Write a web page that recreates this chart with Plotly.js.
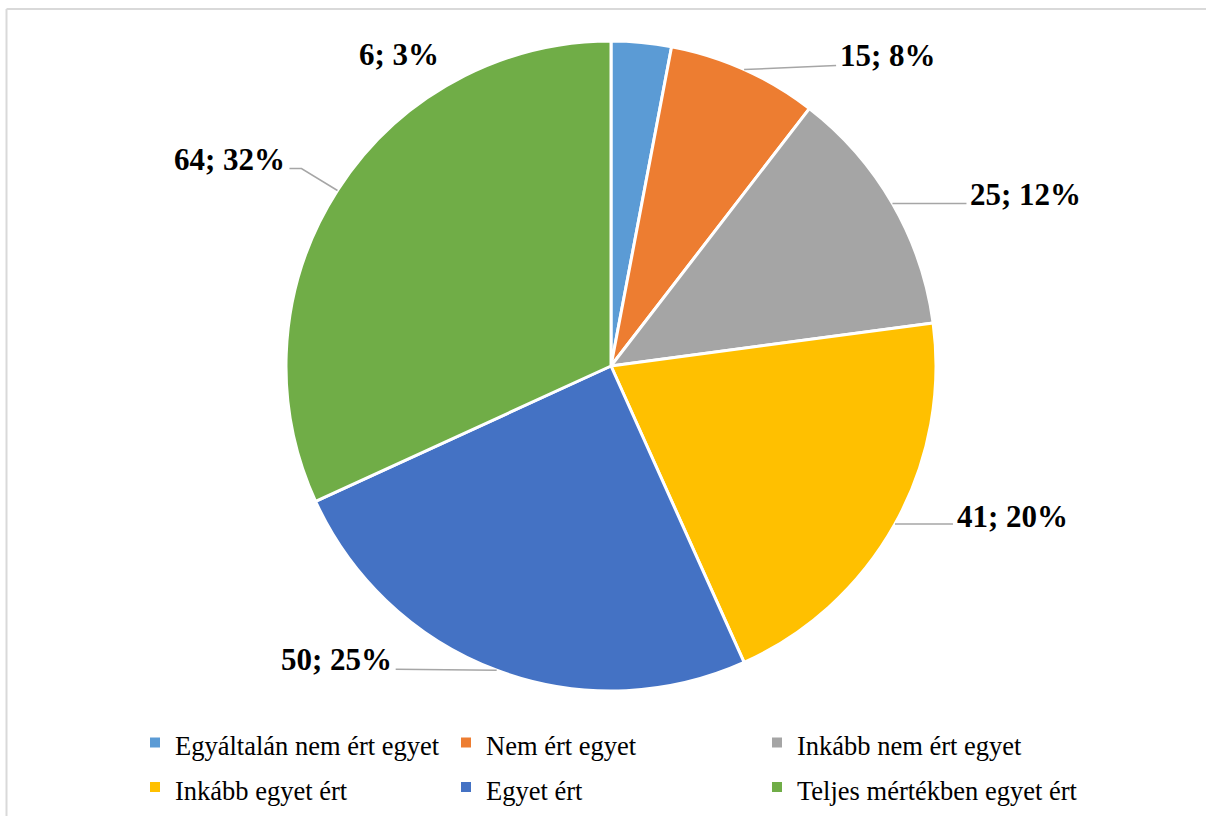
<!DOCTYPE html>
<html>
<head>
<meta charset="utf-8">
<script src="https://cdn.plot.ly/plotly-3.0.1.min.js"></script>
<style>html,body{margin:0;padding:0;background:#fff;}#chart{width:1206px;height:816px;}</style>
</head>
<body>
<div id="chart"></div>
<script>
// ---- data ----
const categories = ["Egyáltalán nem ért egyet", "Nem ért egyet", "Inkább nem ért egyet",
                    "Inkább egyet ért", "Egyet ért", "Teljes mértékben egyet ért"];
const values = [6, 15, 25, 41, 50, 64];
const percentLabels = ["3%", "8%", "12%", "20%", "25%", "32%"];
const colors = ["#5B9BD5", "#ED7D31", "#A5A5A5", "#FFC000", "#4472C4", "#70AD47"];

// ---- layout constants (pixels) ----
const W = 1206, H = 816;
const CX = 611, CY = 366, R = 325;
const px = x => x / W;
const py = y => 1 - y / H;

// label placement per slice: leader line (horizontal length, vertical shift, optional elbow), text offset
const labelPlacement = [
  {side: "free", tx: -242, ty: 12},                        // no leader line
  {side: "right", len: 92, dy: -4, textDy: -10},
  {side: "right", len: 74, dy: 0, textDy: -9},
  {side: "right", len: 58, dy: 0, textDy: -8},
  {side: "left", len: 101, dy: -1, textDy: -10},
  {side: "left", elbowDx: -36, elbowDy: -22, len: 12, textDy: -9}
];

const total = values.reduce((a, b) => a + b, 0);
let cum = 0;
const shapes = [];
const annotations = [];
const serif = "Liberation Serif, Times New Roman, serif";
const labelFont = {family: serif, size: 31, color: "#000"};

values.forEach((v, i) => {
  const mid = (cum + v / 2) / total * 2 * Math.PI;
  cum += v;
  const ex = CX + R * Math.sin(mid);
  const ey = CY - R * Math.cos(mid);
  const p = labelPlacement[i];
  const text = "<b>" + v + "; " + percentLabels[i] + "</b>";
  if (p.side === "free") {
    annotations.push({x: px(ex + p.tx), y: py(ey + p.ty), xref: "paper", yref: "paper",
      text: text, showarrow: false, xanchor: "center", yanchor: "middle", font: labelFont});
    return;
  }
  let path = "M" + px(ex) + "," + py(ey);
  let lx = ex, ly = ey;
  if (p.elbowDx !== undefined) {
    lx += p.elbowDx; ly += p.elbowDy;
    path += " L" + px(lx) + "," + py(ly);
  }
  const sgn = p.side === "right" ? 1 : -1;
  lx += sgn * p.len; ly += (p.dy || 0);
  path += " L" + px(lx) + "," + py(ly);
  shapes.push({type: "path", xref: "paper", yref: "paper", path: path,
    line: {color: "#A6A6A6", width: 1.5}});
  annotations.push({x: px(lx + sgn * 2), y: py(ly + p.textDy), xref: "paper", yref: "paper",
    text: text, showarrow: false, xanchor: p.side === "right" ? "left" : "right",
    yanchor: "middle", font: labelFont});
});

// chart area border (top and left edges visible)
shapes.push({type: "line", xref: "paper", yref: "paper", x0: px(6.5), x1: px(1206), y0: py(9), y1: py(9),
  line: {color: "#D9D9D9", width: 2}});
shapes.push({type: "line", xref: "paper", yref: "paper", x0: px(6.5), x1: px(6.5), y0: py(9), y1: py(816),
  line: {color: "#D9D9D9", width: 2}});

const trace = {
  type: "pie",
  labels: categories.map(c => '<span style="font-size:26.5px">' + c + '</span>'),
  values: values,
  marker: {colors: colors, line: {color: "#FFFFFF", width: 3}},
  sort: false,
  direction: "clockwise",
  rotation: 0,
  textinfo: "none",
  hoverinfo: "label+value+percent",
  domain: {x: [px(CX - R), px(CX + R)], y: [py(CY + R), py(CY - R)]}
};

const layout = {
  width: W, height: H,
  margin: {l: 0, r: 0, t: 0, b: 0},
  paper_bgcolor: "#FFFFFF",
  showlegend: true,
  legend: {
    orientation: "h",
    x: px(135), y: py(710), xanchor: "left", yanchor: "top",
    entrywidth: 266, entrywidthmode: "pixels",
    font: {family: serif, size: 32, color: "#000"},
    // invisible spacer title so the legend box is wide enough for the last entry
    title: {text: "\u00A0".repeat(1000), side: "top", font: {family: serif, size: 4, color: "rgba(0,0,0,0)"}},
    itemsizing: "constant",
    traceorder: "normal",
    bgcolor: "rgba(0,0,0,0)"
  },
  shapes: shapes,
  annotations: annotations
};

Plotly.newPlot("chart", [trace], layout, {displayModeBar: false, staticPlot: true});
</script>
</body>
</html>
